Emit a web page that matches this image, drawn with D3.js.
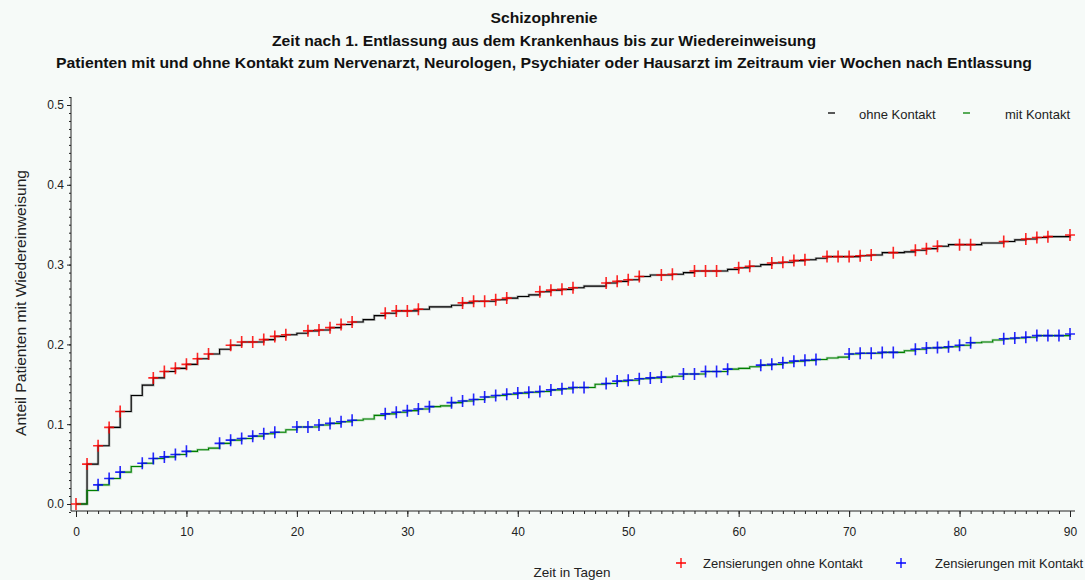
<!DOCTYPE html>
<html><head><meta charset="utf-8">
<script src="https://cdn.jsdelivr.net/npm/d3@7"></script>
<style>
html,body{margin:0;padding:0;background:#f6faf8;}
svg{display:block;font-family:"Liberation Sans",Arial,sans-serif;}
</style></head>
<body>
<svg id="c" width="1085" height="580"></svg>
<script>
const titleLines = [
  "Schizophrenie",
  "Zeit nach 1. Entlassung aus dem Krankenhaus bis zur Wiedereinweisung",
  "Patienten mit und ohne Kontakt zum Nervenarzt, Neurologen, Psychiater oder Hausarzt im Zeitraum vier Wochen nach Entlassung"
];
const xLabel = "Zeit in Tagen";
const yLabel = "Anteil Patienten mit Wiedereinweisung";
const xTicks = [0,10,20,30,40,50,60,70,80,90];
const yTicks = [0.0,0.1,0.2,0.3,0.4,0.5];
const days = d3.range(0,91);
// cumulative proportion readmitted, by day (step function)
const ohneKontakt = [0,0.050,0.073,0.096,0.116,0.136,0.149,0.158,0.166,0.170,
  0.175,0.182,0.188,0.194,0.199,0.203,0.203,0.206,0.210,0.212,
  0.214,0.217,0.218,0.221,0.225,0.228,0.231,0.236,0.239,0.242,
  0.242,0.244,0.247,0.247,0.249,0.252,0.254,0.254,0.256,0.258,
  0.260,0.262,0.266,0.268,0.269,0.271,0.273,0.273,0.277,0.279,
  0.281,0.285,0.287,0.287,0.288,0.290,0.292,0.292,0.292,0.294,
  0.296,0.298,0.300,0.302,0.303,0.305,0.306,0.308,0.310,0.310,
  0.310,0.311,0.312,0.315,0.315,0.316,0.318,0.320,0.323,0.325,
  0.325,0.325,0.327,0.327,0.329,0.331,0.332,0.334,0.335,0.335,0.337];
const mitKontakt = [0,0.017,0.024,0.032,0.040,0.047,0.051,0.057,0.059,0.062,
  0.066,0.068,0.070,0.076,0.080,0.082,0.085,0.088,0.090,0.093,
  0.0965,0.0965,0.099,0.101,0.103,0.105,0.1065,0.111,0.113,0.115,
  0.117,0.119,0.122,0.123,0.127,0.129,0.131,0.134,0.136,0.1375,
  0.139,0.140,0.141,0.143,0.1445,0.146,0.146,0.150,0.151,0.154,
  0.155,0.157,0.158,0.159,0.160,0.163,0.163,0.166,0.166,0.169,
  0.170,0.172,0.174,0.175,0.177,0.179,0.180,0.181,0.183,0.184,
  0.188,0.189,0.189,0.190,0.190,0.192,0.194,0.1955,0.196,0.197,
  0.199,0.202,0.203,0.2055,0.207,0.208,0.209,0.211,0.211,0.211,0.213];
const censOhne = [0,1,2,3,4,7,8,9,10,11,12,14,15,16,17,18,19,21,22,23,24,25,28,29,30,31,
  35,36,37,38,39,42,43,44,45,48,49,50,51,53,54,56,57,58,60,61,63,64,65,66,68,69,70,71,72,
  74,76,77,78,80,81,84,86,87,88,90];
const censMit = [2,3,4,6,7,8,9,10,13,14,15,16,17,18,20,21,22,23,24,25,28,29,30,31,32,34,
  35,36,37,38,39,40,41,42,43,44,45,46,48,49,50,51,52,53,55,56,57,58,59,62,63,64,65,66,67,
  70,71,72,73,74,76,77,78,79,80,81,84,85,86,87,88,89,90];
const seriesNames = ["ohne Kontakt","mit Kontakt"];
const censNames = ["Zensierungen ohne Kontakt","Zensierungen mit Kontakt"];

const svg = d3.select("#c");
const x = d3.scaleLinear().domain([0,90]).range([76,1070]);
const y = d3.scaleLinear().domain([0,0.5]).range([504,105]);

// titles
const titleY = [23,46,68], titleW = [107,544,976];
svg.selectAll("text.title").data(titleLines).join("text")
  .attr("x",544).attr("y",(d,i)=>titleY[i])
  .attr("text-anchor","middle").attr("font-weight","bold")
  .attr("font-size",14).attr("fill","#111")
  .attr("textLength",(d,i)=>titleW[i]).attr("lengthAdjust","spacingAndGlyphs")
  .text(d=>d);

// y axis
const yAxisX = 71;
const gy = svg.append("g").attr("transform",`translate(${yAxisX},0)`);
gy.append("line").attr("x1",0).attr("x2",0).attr("y1",y(0.51)).attr("y2",511).attr("stroke","#222");
gy.call(g=>{
  const a = d3.axisLeft(y).tickValues(d3.range(-0.01,0.515,0.01).map(v=>+v.toFixed(2))).tickSize(2).tickFormat("");
  const sub = g.append("g").call(a); sub.select(".domain").remove();
  sub.selectAll("line").attr("stroke","#222");
  const b = d3.axisLeft(y).tickValues(yTicks).tickSize(4).tickFormat(d3.format(".1f"));
  const maj = g.append("g").call(b); maj.select(".domain").remove();
  maj.selectAll("line").attr("stroke","#222");
  maj.selectAll("text").attr("font-size",12).attr("fill","#222").attr("font-family","Liberation Sans, Arial");
});

// x axis
const xAxisY = 511;
const gx = svg.append("g").attr("transform",`translate(0,${xAxisY})`);
gx.append("line").attr("x1",yAxisX).attr("x2",1075).attr("y1",0).attr("y2",0).attr("stroke","#222");
{
  const a = d3.axisBottom(x).tickValues(days).tickSize(3).tickFormat("");
  const sub = gx.append("g").call(a); sub.select(".domain").remove();
  sub.selectAll("line").attr("stroke","#222");
  const b = d3.axisBottom(x).tickValues(xTicks).tickSize(6).tickPadding(10).tickFormat(d3.format("d"));
  const maj = gx.append("g").call(b); maj.select(".domain").remove();
  maj.selectAll("line").attr("stroke","#222");
  maj.selectAll("text").attr("font-size",12).attr("fill","#222").attr("font-family","Liberation Sans, Arial");
}

// axis labels
svg.append("text").attr("x",572).attr("y",577).attr("text-anchor","middle")
  .attr("font-size",13.5).attr("fill","#222").text(xLabel);
svg.append("text").attr("transform","translate(26,303) rotate(-90)").attr("text-anchor","middle")
  .attr("font-size",14).attr("fill","#222")
  .attr("textLength",266).attr("lengthAdjust","spacingAndGlyphs").text(yLabel);

// step lines
const line = d3.line().x((d,i)=>x(days[i])).y(d=>y(d)).curve(d3.curveStepAfter);
const drawLine = (vals,col)=>{
  svg.append("path").datum(vals).attr("d",line).attr("fill","none")
    .attr("stroke",col).attr("stroke-opacity",0.25).attr("stroke-width",2.6);
  svg.append("path").datum(vals).attr("d",line).attr("fill","none")
    .attr("stroke",col).attr("stroke-width",1.1);
};
drawLine(ohneKontakt,"#000000");
drawLine(mitKontakt,"#008000");

// censoring marks
const plus = (cx,cy,w,h)=>`M${cx-w},${cy}H${cx+w}M${cx},${cy-h}V${cy+h}`;
const drawCens = (ds,vals,col)=>{
  svg.append("g").selectAll("path").data(ds).join("path")
    .attr("d",d=>plus(x(d),y(vals[d]),5,6))
    .attr("stroke",col).attr("stroke-width",1.6).attr("fill","none").attr("stroke-opacity",0.85);
};
drawCens(censOhne,ohneKontakt,"#ff0000");
drawCens(censMit,mitKontakt,"#0000ff");

// top legend
const legTop = [{name:seriesNames[0],col:"#000",lx:828,tx:859},{name:seriesNames[1],col:"#008000",lx:963,tx:1005}];
legTop.forEach(l=>{
  svg.append("line").attr("x1",l.lx).attr("x2",l.lx+7).attr("y1",113).attr("y2",113).attr("stroke",l.col).attr("stroke-width",1.3);
  svg.append("text").attr("x",l.tx).attr("y",119).attr("font-size",13).attr("fill","#222").text(l.name);
});
// bottom legend
const legBot = [{name:censNames[0],col:"#ff0000",px:681,tx:703},{name:censNames[1],col:"#0000ff",px:901,tx:935}];
legBot.forEach(l=>{
  svg.append("path").attr("d",plus(l.px,563,5,5)).attr("stroke",l.col).attr("stroke-width",1.3);
  svg.append("text").attr("x",l.tx).attr("y",568).attr("font-size",13).attr("fill","#222").text(l.name);
});
</script>
</body></html>
